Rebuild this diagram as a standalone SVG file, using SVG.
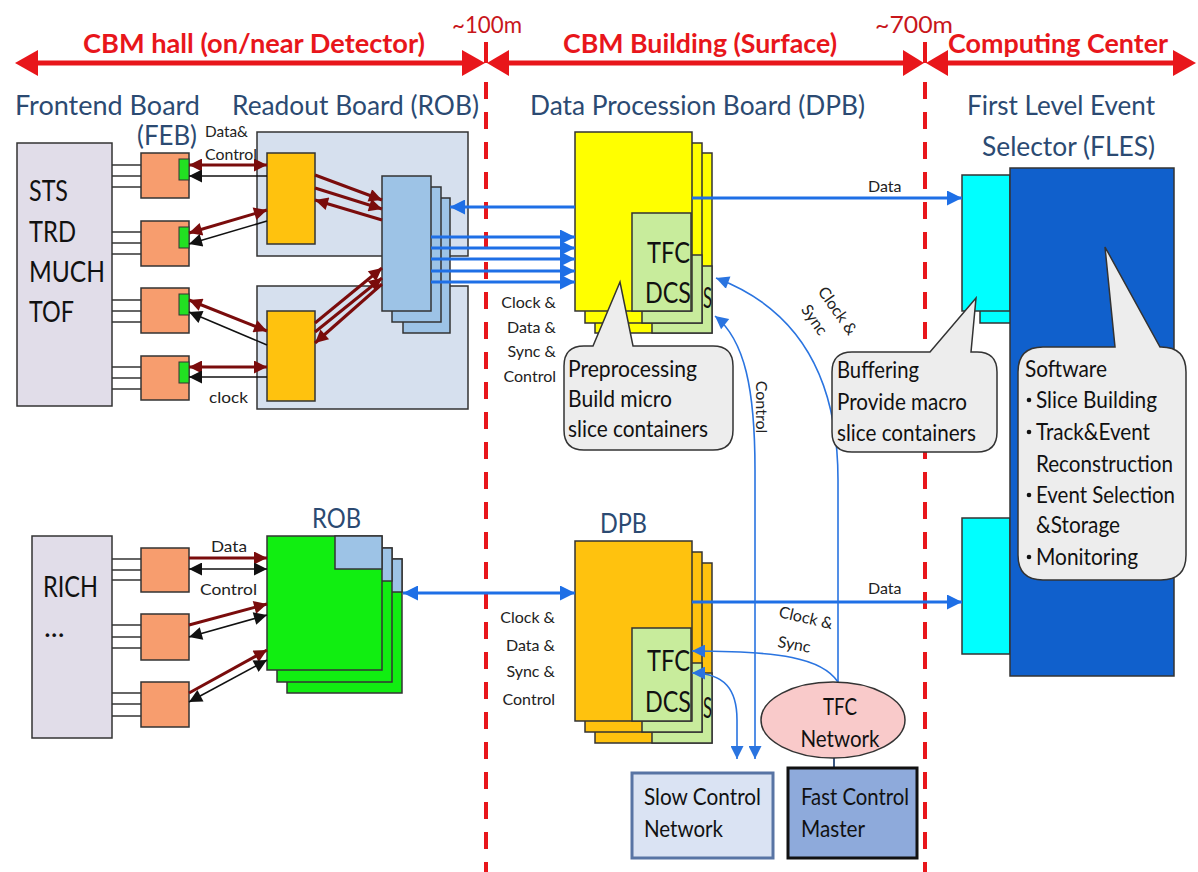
<svg xmlns="http://www.w3.org/2000/svg" width="1198" height="872" viewBox="0 0 1198 872">
<style>
text{font-family:Lato,"Liberation Sans",sans-serif;}
.hdr{fill:#2B4A72;font-size:27px}
.sec{fill:#E8161B;font-size:27px;font-weight:bold}
.dist{fill:#C8161B;font-size:24px}
.big{fill:#111;font-size:29px}
.lbl{fill:#222;font-size:16px}
.cal{fill:#111;font-size:23px}
.box{stroke:#333;stroke-width:1.5}
.feb{fill:#F79D6E;stroke:#333;stroke-width:1.5}
.grn{fill:#22E022;stroke:#333;stroke-width:1}
.dash{stroke:#E8161B;stroke-width:4;stroke-dasharray:17 13}
.rl{stroke:#7A0C0C;stroke-width:3;fill:none}
.bl{stroke:#111;stroke-width:1.6;fill:none}
.bw{stroke:#1E6FE6;stroke-width:3;fill:none}
.bt{stroke:#2A74E0;stroke-width:1.6;fill:none}
.wire{stroke:#333;stroke-width:1.5}
.callout{fill:#EDEDED;stroke:#333;stroke-width:1.5}
</style>
<defs>
<marker id="mr" viewBox="0 0 10 10" refX="10" refY="5" markerWidth="15" markerHeight="13" markerUnits="userSpaceOnUse" orient="auto-start-reverse"><path d="M0,0L10,5L0,10z" fill="#7A0C0C"/></marker>
<marker id="mk" viewBox="0 0 10 10" refX="10" refY="5" markerWidth="15" markerHeight="13" markerUnits="userSpaceOnUse" orient="auto-start-reverse"><path d="M0,0L10,5L0,10z" fill="#111"/></marker>
<marker id="mb" viewBox="0 0 10 10" refX="10" refY="5" markerWidth="17" markerHeight="15" markerUnits="userSpaceOnUse" orient="auto-start-reverse"><path d="M0,0L10,5L0,10z" fill="#1E6FE6"/></marker>
<marker id="mt" viewBox="0 0 10 10" refX="10" refY="5" markerWidth="16" markerHeight="13" markerUnits="userSpaceOnUse" orient="auto-start-reverse"><path d="M0,0L10,5L0,10z" fill="#2A74E0"/></marker>
</defs>
<rect width="1198" height="872" fill="#fff"/>

<g id="dividers">
<line class="dash" x1="486" y1="82" x2="486" y2="872"/>
<line class="dash" x1="925" y1="82" x2="925" y2="872"/>
<line x1="486" y1="42" x2="486" y2="63" stroke="#E8161B" stroke-width="4"/>
<line x1="925" y1="42" x2="925" y2="63" stroke="#E8161B" stroke-width="4"/>
<g fill="#E8161B">
<line x1="30" y1="63" x2="470" y2="63" stroke="#E8161B" stroke-width="5"/>
<polygon points="15,63 38,50 38,76"/>
<polygon points="485,63 462,50 462,76"/>
<line x1="500" y1="63" x2="910" y2="63" stroke="#E8161B" stroke-width="5"/>
<polygon points="487,63 509,50 509,76"/>
<polygon points="924,63 903,50 903,76"/>
<line x1="940" y1="63" x2="1180" y2="63" stroke="#E8161B" stroke-width="5"/>
<polygon points="926,63 948,50 948,76"/>
<polygon points="1196,63 1173,50 1173,76"/>
</g>
<text class="sec" x="83" y="53" textLength="342" lengthAdjust="spacingAndGlyphs">CBM hall (on/near Detector)</text>
<text class="sec" x="563" y="53" textLength="274" lengthAdjust="spacingAndGlyphs">CBM Building (Surface)</text>
<text class="sec" x="948" y="53" textLength="220" lengthAdjust="spacingAndGlyphs">Computing Center</text>
<text class="dist" x="452" y="33" textLength="70" lengthAdjust="spacingAndGlyphs">~100m</text>
<text class="dist" x="875" y="33" textLength="78" lengthAdjust="spacingAndGlyphs">~700m</text>
</g>

<g id="headers">
<text class="hdr" x="15" y="115" textLength="185" lengthAdjust="spacingAndGlyphs">Frontend Board</text>
<text class="hdr" x="137" y="145" textLength="60" lengthAdjust="spacingAndGlyphs">(FEB)</text>
<text class="hdr" x="232" y="115" textLength="247" lengthAdjust="spacingAndGlyphs">Readout Board (ROB)</text>
<text class="hdr" x="530" y="115" textLength="335" lengthAdjust="spacingAndGlyphs">Data Procession Board (DPB)</text>
<text class="hdr" x="967" y="115" textLength="188" lengthAdjust="spacingAndGlyphs">First Level Event</text>
<text class="hdr" x="982" y="156" textLength="173" lengthAdjust="spacingAndGlyphs">Selector (FLES)</text>
</g>

<g id="detector-top">
<rect class="box" x="17" y="143" width="95" height="263" fill="#E1DDE9"/>
<text class="big" x="29" y="201" textLength="39" lengthAdjust="spacingAndGlyphs">STS</text>
<text class="big" x="29" y="242" textLength="47" lengthAdjust="spacingAndGlyphs">TRD</text>
<text class="big" x="29" y="282" textLength="76" lengthAdjust="spacingAndGlyphs">MUCH</text>
<text class="big" x="29" y="322" textLength="45" lengthAdjust="spacingAndGlyphs">TOF</text>
</g>

<g id="feb1"><rect class="feb" x="141" y="153" width="48" height="45"/><rect class="grn" x="179" y="159" width="10" height="21"/></g>
<g id="feb2"><rect class="feb" x="141" y="221" width="48" height="45"/><rect class="grn" x="179" y="227" width="10" height="21"/></g>
<g id="feb3"><rect class="feb" x="141" y="288" width="48" height="45"/><rect class="grn" x="179" y="294" width="10" height="21"/></g>
<g id="feb4"><rect class="feb" x="141" y="356" width="48" height="44"/><rect class="grn" x="179" y="362" width="10" height="21"/></g>

<g id="rob-top">
<rect class="box" x="257" y="132" width="211" height="124" fill="#D6E0EE"/>
<rect class="box" x="257" y="286" width="211" height="123" fill="#D6E0EE"/>
<rect class="box" x="267" y="153" width="48" height="91" fill="#FFC20E"/>
<rect class="box" x="267" y="311" width="48" height="90" fill="#FFC20E"/>
<rect class="box" x="403" y="198" width="47" height="135" fill="#9DC3E6"/>
<rect class="box" x="392" y="187" width="49" height="135" fill="#9DC3E6"/>
<rect class="box" x="382" y="176" width="49" height="135" fill="#9DC3E6"/>
</g>

<g id="dpb-top">
<rect class="box" x="595" y="153" width="117" height="180" fill="#FFFF00"/>
<rect class="box" x="652" y="266" width="60" height="67" fill="#C8EC9C"/>
<rect class="box" x="585" y="143" width="117" height="180" fill="#FFFF00"/>
<rect class="box" x="642" y="255" width="60" height="68" fill="#C8EC9C"/>
<text class="big" x="703" y="308" font-size="24" textLength="9" lengthAdjust="spacingAndGlyphs">S</text>
<rect class="box" x="575" y="132" width="117" height="179" fill="#FFFF00"/>
<rect class="box" x="632" y="213" width="59" height="98" fill="#C8EC9C"/>
<text class="big" x="647" y="263" textLength="43" lengthAdjust="spacingAndGlyphs">TFC</text>
<text class="big" x="645" y="303" textLength="46" lengthAdjust="spacingAndGlyphs">DCS</text>
</g>

<g id="fles">
<rect class="box" x="980" y="187" width="48" height="136" fill="#00FFFF"/>
<rect class="box" x="962" y="175" width="48" height="136" fill="#00FFFF"/>
<rect class="box" x="962" y="518" width="48" height="136" fill="#00FFFF"/>
<rect class="box" x="1010" y="168" width="164" height="508" fill="#1060CC"/>
</g>

<g id="rich">
<rect class="box" x="32" y="536" width="80" height="202" fill="#E1DDE9"/>
<text class="big" x="43" y="597" textLength="55" lengthAdjust="spacingAndGlyphs">RICH</text>
<text class="big" x="44" y="637" font-size="24">...</text>
</g>
<g id="feb5"><rect class="feb" x="141" y="548" width="48" height="44"/></g>
<g id="feb6"><rect class="feb" x="141" y="614" width="48" height="46"/></g>
<g id="feb7"><rect class="feb" x="141" y="682" width="48" height="45"/></g>

<g id="rob-bottom">
<text class="hdr" x="312" y="528" font-size="25" textLength="49" lengthAdjust="spacingAndGlyphs">ROB</text>
<rect class="box" x="287" y="559" width="115" height="134" fill="#11EE11"/>
<rect class="box" x="355" y="559" width="47" height="33" fill="#9DC3E6"/>
<rect class="box" x="277" y="548" width="115" height="134" fill="#11EE11"/>
<rect class="box" x="345" y="548" width="47" height="33" fill="#9DC3E6"/>
<rect class="box" x="267" y="536" width="115" height="134" fill="#11EE11"/>
<rect class="box" x="335" y="536" width="47" height="33" fill="#9DC3E6"/>
</g>

<g id="dpb-bottom">
<text class="hdr" x="600" y="533" font-size="25" textLength="47" lengthAdjust="spacingAndGlyphs">DPB</text>
<rect class="box" x="595" y="563" width="117" height="180" fill="#FFC20E"/>
<rect class="box" x="652" y="673" width="60" height="70" fill="#C8EC9C"/>
<rect class="box" x="585" y="552" width="117" height="180" fill="#FFC20E"/>
<rect class="box" x="642" y="663" width="60" height="69" fill="#C8EC9C"/>
<text class="big" x="703" y="718" font-size="24" textLength="9" lengthAdjust="spacingAndGlyphs">S</text>
<rect class="box" x="575" y="541" width="117" height="180" fill="#FFC20E"/>
<rect class="box" x="632" y="628" width="59" height="93" fill="#C8EC9C"/>
<text class="big" x="647" y="671" textLength="43" lengthAdjust="spacingAndGlyphs">TFC</text>
<text class="big" x="645" y="712" textLength="46" lengthAdjust="spacingAndGlyphs">DCS</text>
</g>

<g id="connectors">
<g class="wire">
<line x1="112" y1="165" x2="141" y2="165"/><line x1="112" y1="176" x2="141" y2="176"/><line x1="112" y1="187" x2="141" y2="187"/>
<line x1="112" y1="232" x2="141" y2="232"/><line x1="112" y1="243" x2="141" y2="243"/><line x1="112" y1="254" x2="141" y2="254"/>
<line x1="112" y1="300" x2="141" y2="300"/><line x1="112" y1="311" x2="141" y2="311"/><line x1="112" y1="322" x2="141" y2="322"/>
<line x1="112" y1="367" x2="141" y2="367"/><line x1="112" y1="378" x2="141" y2="378"/><line x1="112" y1="389" x2="141" y2="389"/>
<line x1="112" y1="559" x2="141" y2="559"/><line x1="112" y1="570" x2="141" y2="570"/><line x1="112" y1="580" x2="141" y2="580"/>
<line x1="112" y1="625" x2="141" y2="625"/><line x1="112" y1="637" x2="141" y2="637"/><line x1="112" y1="648" x2="141" y2="648"/>
<line x1="112" y1="693" x2="141" y2="693"/><line x1="112" y1="704" x2="141" y2="704"/><line x1="112" y1="716" x2="141" y2="716"/>
</g>
<path class="rl" d="M189,165L267,165" marker-start="url(#mr)" marker-end="url(#mr)"/>
<path class="bl" d="M267,176L189,176" marker-end="url(#mk)"/>
<path class="rl" d="M189,233L267,210" marker-start="url(#mr)" marker-end="url(#mr)"/>
<path class="bl" d="M267,221L189,244" marker-end="url(#mk)"/>
<path class="rl" d="M189,300L267,331" marker-start="url(#mr)" marker-end="url(#mr)"/>
<path class="bl" d="M267,345L189,312" marker-end="url(#mk)"/>
<path class="rl" d="M189,367L267,367" marker-start="url(#mr)" marker-end="url(#mr)"/>
<path class="bl" d="M267,377L189,377" marker-end="url(#mk)"/>
<text class="lbl" x="205" y="137" font-size="14" textLength="43" lengthAdjust="spacingAndGlyphs">Data&amp;</text>
<text class="lbl" x="205" y="160" font-size="15" textLength="52" lengthAdjust="spacingAndGlyphs">Control</text>
<text class="lbl" x="209" y="403" font-size="18" textLength="39" lengthAdjust="spacingAndGlyphs">clock</text>
<path class="rl" d="M315,175L382,200" marker-end="url(#mr)"/>
<path class="rl" d="M315,188L382,209" marker-end="url(#mr)"/>
<path class="rl" d="M382,220L315,200" marker-end="url(#mr)"/>
<path class="rl" d="M315,323L382,268" marker-end="url(#mr)"/>
<path class="rl" d="M315,332L382,278" marker-end="url(#mr)"/>
<path class="rl" d="M382,284L315,343" marker-end="url(#mr)"/>
<path class="bw" d="M575,207L450,207" marker-end="url(#mb)"/>
<path class="bw" d="M431,237L575,237" marker-end="url(#mb)"/>
<path class="bw" d="M431,248L575,248" marker-end="url(#mb)"/>
<path class="bw" d="M431,259L575,259" marker-end="url(#mb)"/>
<path class="bw" d="M431,271L575,271" marker-end="url(#mb)"/>
<path class="bw" d="M431,282L575,282" marker-end="url(#mb)"/>
<g class="lbl" text-anchor="end" font-size="17">
<text x="556" y="308">Clock &amp;</text>
<text x="556" y="333">Data &amp;</text>
<text x="556" y="357">Sync &amp;</text>
<text x="556" y="382">Control</text>
</g>
<path class="bw" d="M692,198L962,198" marker-end="url(#mb)"/>
<text class="lbl" x="868" y="192">Data</text>
<path class="bw" d="M692,602L962,602" marker-end="url(#mb)"/>
<text class="lbl" x="868" y="594">Data</text>
<path class="rl" d="M189,558L267,558" marker-end="url(#mr)"/>
<path class="bl" d="M189,569L267,569" marker-start="url(#mk)" marker-end="url(#mk)"/>
<path class="rl" d="M189,625L267,604" marker-end="url(#mr)"/>
<path class="bl" d="M189,637L267,615" marker-start="url(#mk)" marker-end="url(#mk)"/>
<path class="rl" d="M189,693L267,650" marker-end="url(#mr)"/>
<path class="bl" d="M189,702L267,660" marker-start="url(#mk)" marker-end="url(#mk)"/>
<text class="lbl" x="211" y="552" font-size="17" textLength="36" lengthAdjust="spacingAndGlyphs">Data</text>
<text class="lbl" x="200" y="595" font-size="17" textLength="57" lengthAdjust="spacingAndGlyphs">Control</text>
<path class="bw" d="M403,593L575,593" marker-start="url(#mb)" marker-end="url(#mb)"/>
<g class="lbl" text-anchor="end" font-size="17">
<text x="555" y="623">Clock &amp;</text>
<text x="555" y="651">Data &amp;</text>
<text x="555" y="677">Sync &amp;</text>
<text x="555" y="705">Control</text>
</g>
<path class="bt" d="M838,682L838,480C838,400 815,315 716,278" marker-end="url(#mt)"/>
<path class="bt" d="M755,759L755,470C755,390 745,340 715,316" marker-start="url(#mt)" marker-end="url(#mt)"/>
<path class="bt" d="M838,682C822,658 780,651 692,651" marker-end="url(#mt)"/>
<path class="bt" d="M692,673C725,673 737,690 737,720L737,759" marker-start="url(#mt)" marker-end="url(#mt)"/>
<line x1="834" y1="758" x2="834" y2="768" stroke="#3A5680" stroke-width="2"/>
<text class="lbl" transform="translate(833,314) rotate(55)" text-anchor="middle">Clock &amp;</text>
<text class="lbl" transform="translate(810,323) rotate(55)" text-anchor="middle">Sync</text>
<text class="lbl" transform="translate(756,407) rotate(90)" text-anchor="middle">Control</text>
<text class="lbl" transform="translate(778,617) rotate(13)">Clock &amp;</text>
<text class="lbl" transform="translate(777,647) rotate(10)">Sync</text>
</g>

<g id="callout-pre">
<path class="callout" d="M584,346L593,346L620,282L633,346L713,346Q733,346 733,366L733,430Q733,450 713,450L584,450Q564,450 564,430L564,366Q564,346 584,346Z"/>
<text class="cal" x="568" y="377" textLength="129" lengthAdjust="spacingAndGlyphs">Preprocessing</text>
<text class="cal" x="568" y="407" textLength="104" lengthAdjust="spacingAndGlyphs">Build micro</text>
<text class="cal" x="568" y="437" textLength="140" lengthAdjust="spacingAndGlyphs">slice containers</text>
</g>

<g id="callout-buf">
<path class="callout" d="M852,352L930,352L976,298L971,352L977,352Q997,352 997,372L997,432Q997,452 977,452L852,452Q832,452 832,432L832,372Q832,352 852,352Z"/>
<text class="cal" x="837" y="378" textLength="82" lengthAdjust="spacingAndGlyphs">Buffering</text>
<text class="cal" x="837" y="410" textLength="130" lengthAdjust="spacingAndGlyphs">Provide macro</text>
<text class="cal" x="837" y="441" textLength="139" lengthAdjust="spacingAndGlyphs">slice containers</text>
</g>

<g id="callout-sw">
<path class="callout" d="M1043,347L1115,347L1105,247L1160,347L1161,347Q1186,347 1186,372L1186,555Q1186,580 1161,580L1043,580Q1018,580 1018,555L1018,372Q1018,347 1043,347Z"/>
<text class="cal" x="1025" y="377" textLength="82" lengthAdjust="spacingAndGlyphs">Software</text>
<g fill="#111"><circle cx="1029" cy="400" r="2.3"/><circle cx="1029" cy="432" r="2.3"/><circle cx="1029" cy="495" r="2.3"/><circle cx="1029" cy="557" r="2.3"/></g>
<text class="cal" x="1036" y="408" textLength="121" lengthAdjust="spacingAndGlyphs">Slice Building</text>
<text class="cal" x="1036" y="440" textLength="114" lengthAdjust="spacingAndGlyphs">Track&amp;Event</text>
<text class="cal" x="1036" y="472" textLength="137" lengthAdjust="spacingAndGlyphs">Reconstruction</text>
<text class="cal" x="1036" y="503" textLength="139" lengthAdjust="spacingAndGlyphs">Event Selection</text>
<text class="cal" x="1036" y="533" textLength="84" lengthAdjust="spacingAndGlyphs">&amp;Storage</text>
<text class="cal" x="1036" y="565" textLength="102" lengthAdjust="spacingAndGlyphs">Monitoring</text>
</g>

<g id="tfc-network">
<ellipse cx="833" cy="720" rx="72" ry="38" fill="#F9CACA" stroke="#333" stroke-width="1.5"/>
<text class="cal" x="840" y="715" text-anchor="middle" textLength="34" lengthAdjust="spacingAndGlyphs">TFC</text>
<text class="cal" x="840" y="747" text-anchor="middle" textLength="79" lengthAdjust="spacingAndGlyphs">Network</text>
</g>

<g id="slow-control">
<rect x="632" y="773" width="141" height="85" fill="#DAE3F3" stroke="#5874A4" stroke-width="3"/>
<text class="cal" x="644" y="805" textLength="117" lengthAdjust="spacingAndGlyphs">Slow Control</text>
<text class="cal" x="644" y="837" textLength="79" lengthAdjust="spacingAndGlyphs">Network</text>
</g>

<g id="fast-control">
<rect x="788" y="768" width="129" height="90" fill="#8EAADB" stroke="#111" stroke-width="3"/>
<text class="cal" x="801" y="805" textLength="108" lengthAdjust="spacingAndGlyphs">Fast Control</text>
<text class="cal" x="801" y="837" textLength="64" lengthAdjust="spacingAndGlyphs">Master</text>
</g>
</svg>
